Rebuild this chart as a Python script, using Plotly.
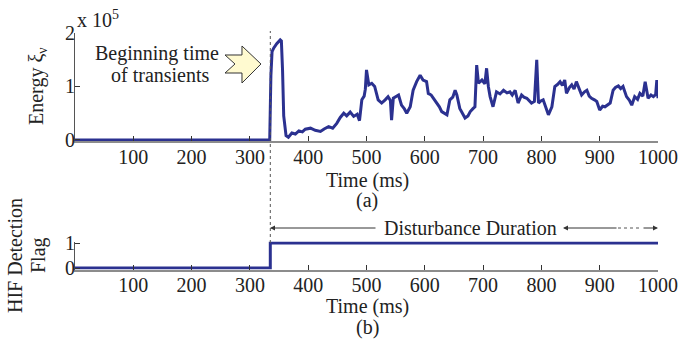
import plotly.graph_objects as go
from plotly.subplots import make_subplots

# ---- data ----
time_ms = [0, 334, 336, 338, 341, 346, 352, 354, 356, 358,
           362, 366, 372, 378, 384, 390, 395, 404, 412, 421,
           428, 435, 442, 449, 455, 461, 466, 472, 478, 484,
           488, 492, 496, 498, 500, 504, 509, 514, 520, 526,
           532, 537, 541, 543, 546, 550, 555, 560, 565, 569,
           575, 580, 586, 592, 597, 603, 606, 611, 615, 620,
           625, 629, 634, 638, 643, 648, 652, 655, 660, 665,
           669, 674, 678, 683, 686, 689, 692, 698, 703, 706,
           709, 712, 717, 723, 729, 735, 741, 746, 750, 755,
           760, 766, 770, 775, 779, 783, 788, 792, 795, 799,
           803, 808, 812, 818, 823, 828, 832, 836, 840, 843,
           848, 852, 856, 860, 865, 869, 874, 878, 882, 886,
           891, 895, 900, 905, 909, 914, 918, 923, 927, 932,
           936, 940, 946, 951, 955, 960, 965, 969, 974, 978,
           983, 988, 992, 996, 998, 1000]
energy_e5 = [0, 0, 1.20, 1.65, 1.72, 1.80, 1.87, 1.85, 1.30, 0.45,
             0.08, 0.05, 0.13, 0.11, 0.17, 0.15, 0.20, 0.22, 0.18, 0.16,
             0.21, 0.25, 0.22, 0.31, 0.42, 0.50, 0.45, 0.52, 0.44, 0.48,
             0.36, 0.75, 0.82, 0.95, 1.31, 1.03, 1.06, 1.00, 0.75, 0.69,
             0.75, 0.81, 0.74, 0.37, 0.78, 0.80, 0.84, 0.65, 0.58, 0.50,
             0.62, 0.93, 1.09, 1.21, 1.12, 1.09, 0.87, 0.84, 0.78, 0.69,
             0.62, 0.53, 0.49, 0.47, 0.75, 0.80, 0.93, 0.84, 0.59, 0.50,
             0.41, 0.45, 0.53, 0.59, 0.62, 1.40, 1.06, 1.12, 1.05, 1.34,
             1.00, 0.81, 0.62, 0.90, 0.86, 0.93, 0.88, 0.90, 0.84, 0.93,
             0.69, 0.84, 0.80, 0.78, 0.74, 0.69, 0.72, 1.50, 0.69, 0.73,
             0.75, 0.60, 0.47, 0.62, 1.00, 1.04, 1.09, 1.02, 1.12, 0.87,
             0.98, 1.03, 0.95, 1.09, 0.96, 0.84, 0.90, 0.93, 0.82, 0.78,
             0.75, 0.72, 0.56, 0.63, 0.62, 0.66, 0.69, 0.93, 0.98, 1.01,
             0.96, 1.00, 0.81, 0.74, 0.65, 0.81, 0.76, 0.87, 0.82, 1.09,
             0.78, 0.84, 0.81, 0.85, 1.12, 0.78]
flag_time = [0, 335, 335, 1000]
flag_value = [0, 0, 1, 1]
x_ticks = [100, 200, 300, 400, 500, 600, 700, 800, 900, 1000]
energy_ticks = [0, 1, 2]
flag_ticks = [0, 1]
transient_start = 335

# ---- layout helpers: reference pixel -> paper ----
W, H = 678, 345
ML, MR, MT, MB = 75, 20, 0, 0
def px(x):
    return (x - ML) / (W - ML - MR)
def py(y):
    return 1 - (y - MT) / (H - MT - MB)

FONT = "Liberation Serif"
FS = 20
LINE_C = "#2b3190"
TXT = "#222"

fig = make_subplots(rows=2, cols=1)
fig.add_trace(go.Scatter(x=time_ms, y=energy_e5, mode="lines",
                         line=dict(color=LINE_C, width=3), showlegend=False), row=1, col=1)
fig.add_trace(go.Scatter(x=flag_time, y=flag_value, mode="lines",
                         line=dict(color=LINE_C, width=3), showlegend=False), row=2, col=1)

xcommon = dict(range=[0, 1000], tickvals=x_ticks, ticks="inside", ticklen=5, tickcolor="#333",
               showline=True, linecolor="#8c8c8c", linewidth=1.5, showgrid=False, zeroline=False,
               ticklabelstandoff=-3, tickfont=dict(family=FONT, size=FS, color=TXT))
ycommon = dict(ticks="inside", ticklen=5, tickcolor="#333", showline=True, linecolor="#555",
               linewidth=1, showgrid=False, zeroline=False, ticklabelstandoff=-5,
               tickfont=dict(family=FONT, size=FS, color=TXT))
fig.update_layout(
    xaxis=dict(domain=[0, 1], anchor="y", **xcommon),
    xaxis2=dict(domain=[0, 1], anchor="y2", **xcommon),
    yaxis=dict(domain=[py(141), py(33)], range=[-0.02, 2], tickvals=energy_ticks, **ycommon),
    yaxis2=dict(domain=[py(269.5), py(241.5)], range=[-0.06, 1.06], tickvals=flag_ticks, **ycommon),
    width=W, height=H, margin=dict(l=ML, r=MR, t=MT, b=MB, autoexpand=False),
    paper_bgcolor="white", plot_bgcolor="white",
    font=dict(family=FONT, size=FS, color=TXT),
)

ann = []
def text(t, x, y, **kw):
    d = dict(text=t, x=px(x), y=py(y), xref="paper", yref="paper", showarrow=False,
             xanchor="center", yanchor="middle",
             font=dict(family=FONT, size=FS, color=TXT))
    d.update(kw)
    ann.append(d)

text("x 10<sup>5</sup>", 75, 19, xanchor="left")
text("Energy ξ<sub>ν</sub>", 37, 86, textangle=-90)
text("Time (ms)", 367, 180)
text("(a)", 367, 200)
text("Beginning time", 157, 53)
text("of transients", 160, 75)
text("HIF Detection", 15, 256, textangle=-90)
text("Flag", 39, 255, textangle=-90)
text("Time (ms)", 367, 306)
text("(b)", 367, 327)
text("Disturbance Duration", 470, 228, bgcolor="white")

# arrows for "Disturbance Duration"
arrow = dict(xref="paper", yref="paper", showarrow=True, arrowhead=2, arrowsize=1,
             arrowwidth=1, arrowcolor="#333", text="", ay=0)
ann.append(dict(arrow, x=px(270), y=py(228), ax=107))
ann.append(dict(arrow, x=px(563), y=py(228), ax=55))
ann.append(dict(arrow, x=px(658), y=py(228), ax=-16))

shapes = [
    dict(type="line", xref="x", yref="paper", x0=transient_start, x1=transient_start,
         y0=py(243), y1=py(31), line=dict(color="#555", width=1, dash="dot")),
    dict(type="line", xref="paper", yref="paper", x0=px(618), x1=px(642), y0=py(228), y1=py(228),
         line=dict(color="#555", width=1, dash="dot")),
]
pts = [(225, 55), (242, 55), (242, 46), (261, 64), (242, 83), (242, 73), (225, 73), (235, 64)]
path = "M " + " L ".join(f"{px(a):.4f},{py(b):.4f}" for a, b in pts) + " Z"
shapes.append(dict(type="path", xref="paper", yref="paper", path=path,
                   fillcolor="#fffad0", line=dict(color="#333", width=1)))

fig.update_layout(annotations=ann, shapes=shapes)
fig.write_html("out.html",
               post_script="document.body.style.margin='0';"
                           "document.documentElement.style.overflow='hidden';")
